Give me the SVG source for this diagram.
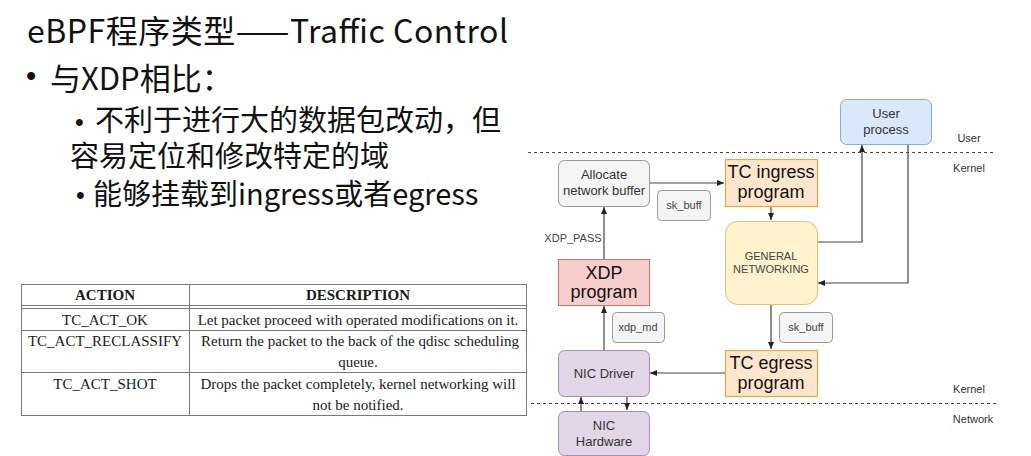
<svg xmlns="http://www.w3.org/2000/svg" width="1031" height="456" viewBox="0 0 1031 456">
<defs>
<style>
.cjk{font-family:"Noto Sans CJK SC","Noto Sans",sans-serif;fill:#111}
.bul{font-family:"Liberation Sans",Arial,sans-serif;fill:#111}
.tb{font-family:"Liberation Serif","Times New Roman",serif;font-size:15px;fill:#1a1a1a;text-anchor:middle}
.tbh{font-weight:bold}
.tl{stroke:#7a7a7a;stroke-width:1;fill:none}
.lbl{font-family:"Liberation Sans",Arial,sans-serif;font-size:13px;fill:#333;text-anchor:middle}
.big{font-family:"Liberation Sans",Arial,sans-serif;font-size:18px;fill:#111;text-anchor:middle}
.sm{font-family:"Liberation Sans",Arial,sans-serif;font-size:11px;fill:#444;text-anchor:middle}
.zone{font-family:"Liberation Sans",Arial,sans-serif;font-size:11px;fill:#333;text-anchor:middle}
.gray{fill:#f5f5f5;stroke:#9a9a9a;stroke-width:1}
.blue{fill:#dae8fc;stroke:#8fa9d4;stroke-width:1}
.orange{fill:#ffe6cc;stroke:#e0aa45;stroke-width:1.2}
.yellow{fill:#fff2cc;stroke:#dcc27a;stroke-width:1}
.red{fill:#f8cecc;stroke:#c27672;stroke-width:1}
.purple{fill:#e1d5e7;stroke:#a98bb8;stroke-width:1}
.edge{stroke:#444;stroke-width:1.2;fill:none;marker-end:url(#arr)}
.dash{stroke:#444;stroke-width:1;stroke-dasharray:3 3;fill:none}
</style>
<marker id="arr" markerWidth="8" markerHeight="8" refX="7" refY="4" orient="auto" markerUnits="userSpaceOnUse">
<path d="M0,1 L7,4 L0,7 Z" fill="#222"/>
</marker>
</defs>
<rect width="1031" height="456" fill="#ffffff"/>

<g id="slide-text">
<text class="cjk" x="27" y="43" font-size="32" textLength="481" lengthAdjust="spacing">eBPF程序类型——Traffic Control</text>
<text class="bul" x="26" y="85.5" font-size="29">•</text>
<text class="cjk" x="50" y="90" font-size="31">与XDP相比：</text>
<text class="bul" x="75" y="130.5" font-size="25">•</text>
<text class="cjk" x="95" y="131" font-size="29">不利于进行大的数据包改动，但</text>
<text class="cjk" x="70" y="167" font-size="29">容易定位和修改特定的域</text>
<text class="bul" x="76" y="203.5" font-size="25">•</text>
<text class="cjk" x="93" y="205" font-size="29">能够挂载到ingress或者egress</text>
</g>

<g id="table">
<rect class="tl" x="21.5" y="284.5" width="505" height="131"/>
<line class="tl" x1="21.5" y1="305.5" x2="526.5" y2="305.5"/>
<line class="tl" x1="21.5" y1="308.5" x2="526.5" y2="308.5"/>
<line class="tl" x1="21.5" y1="330.5" x2="526.5" y2="330.5"/>
<line class="tl" x1="21.5" y1="372.5" x2="526.5" y2="372.5"/>
<line class="tl" x1="189.5" y1="284.5" x2="189.5" y2="415.5"/>
<text class="tb tbh" x="105" y="300">ACTION</text>
<text class="tb tbh" x="358" y="300">DESCRIPTION</text>
<text class="tb" x="105" y="325">TC_ACT_OK</text>
<text class="tb" x="358" y="325">Let packet proceed with operated modifications on it.</text>
<text class="tb" x="105" y="346">TC_ACT_RECLASSIFY</text>
<text class="tb" x="360" y="346">Return the packet to the back of the qdisc scheduling</text>
<text class="tb" x="358" y="367">queue.</text>
<text class="tb" x="105" y="389">TC_ACT_SHOT</text>
<text class="tb" x="358" y="389">Drops the packet completely, kernel networking will</text>
<text class="tb" x="358" y="410">not be notified.</text>
</g>

<g id="zones">
<line class="dash" x1="528" y1="152.5" x2="995" y2="152.5"/>
<line class="dash" x1="531" y1="403.5" x2="998" y2="403.5"/>
<text class="zone" x="969" y="142">User</text>
<text class="zone" x="969" y="172">Kernel</text>
<text class="zone" x="969" y="393">Kernel</text>
<text class="zone" x="973" y="423">Network</text>
</g>

<g id="connectors">
<path class="edge" d="M649,183 H724"/>
<path class="edge" d="M771,206 V220"/>
<path class="edge" d="M817,242 H862 V145"/>
<path class="edge" d="M908,144 V283 H818"/>
<path class="edge" d="M604,259 V207"/>
<path class="edge" d="M604,350 V306"/>
<path class="edge" d="M771,304 V349"/>
<path class="edge" d="M725,373 H650"/>
<path class="edge" d="M581,411 V397"/>
<path class="edge" d="M627,396 V410"/>
<text class="sm" x="573" y="242">XDP_PASS</text>
</g>

<g id="user-process">
<rect class="blue" x="840.5" y="99.5" width="91" height="45" rx="6"/>
<text class="lbl" x="886" y="118">User</text>
<text class="lbl" x="886" y="134">process</text>
</g>

<g id="allocate-buffer">
<rect class="gray" x="558.5" y="160.5" width="91" height="46" rx="6"/>
<text class="lbl" x="604" y="179" fill="#555">Allocate</text>
<text class="lbl" x="604" y="195" fill="#555">network buffer</text>
</g>

<g id="sk-buff-1">
<rect class="gray" x="657.5" y="190.5" width="53" height="30" rx="4"/>
<text class="sm" x="684" y="209">sk_buff</text>
</g>

<g id="tc-ingress">
<rect class="orange" x="725.5" y="159.5" width="92" height="47"/>
<text class="big" x="771" y="178">TC ingress</text>
<text class="big" x="771" y="198">program</text>
</g>

<g id="general-networking">
<rect class="yellow" x="725.5" y="221.5" width="92" height="83" rx="12"/>
<text class="sm" x="771" y="260" font-size="10.5">GENERAL</text>
<text class="sm" x="771" y="273" font-size="10.5">NETWORKING</text>
</g>

<g id="xdp-program">
<rect class="red" x="558.5" y="259.5" width="91" height="46"/>
<text class="big" x="604" y="279">XDP</text>
<text class="big" x="604" y="298">program</text>
</g>

<g id="xdp-md">
<rect class="gray" x="612.5" y="312.5" width="52" height="30" rx="4"/>
<text class="sm" x="638" y="331">xdp_md</text>
</g>

<g id="sk-buff-2">
<rect class="gray" x="779.5" y="312.5" width="53" height="30" rx="4"/>
<text class="sm" x="806" y="331">sk_buff</text>
</g>

<g id="nic-driver">
<rect class="purple" x="558.5" y="350.5" width="91" height="46" rx="6"/>
<text class="lbl" x="604" y="378">NIC Driver</text>
</g>

<g id="tc-egress">
<rect class="orange" x="725.5" y="350.5" width="92" height="46"/>
<text class="big" x="771" y="369">TC egress</text>
<text class="big" x="771" y="389">program</text>
</g>

<g id="nic-hardware">
<rect class="purple" x="558.5" y="411.5" width="91" height="44" rx="6"/>
<text class="lbl" x="604" y="430">NIC</text>
<text class="lbl" x="604" y="446">Hardware</text>
</g>
</svg>
